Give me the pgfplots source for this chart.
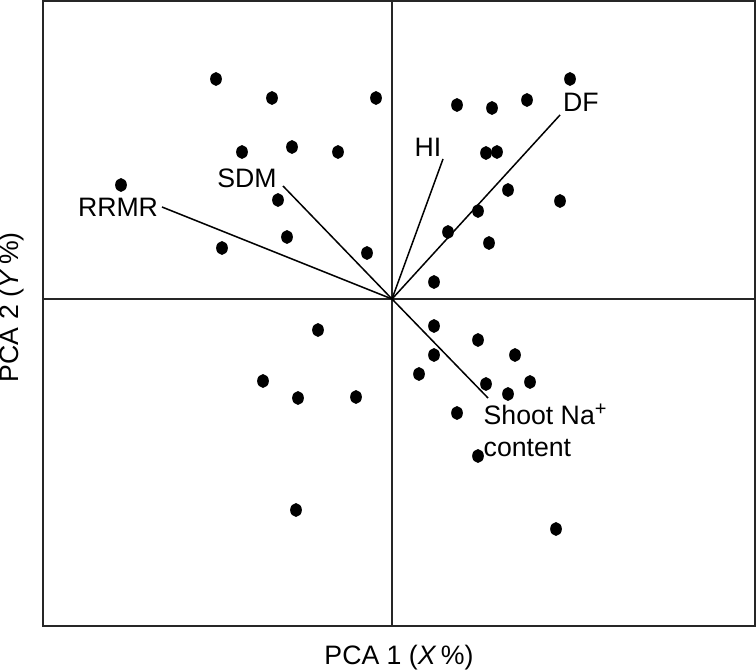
\documentclass[border=0pt]{standalone}
\usepackage{pgfplots}
\pgfplotsset{compat=1.18}
\usepackage{fontspec}
\setmainfont{Liberation Sans}

\begin{document}
\begin{tikzpicture}
\begin{axis}[
    name=pca,
    scale only axis,
    width=213.6pt, height=187.5pt,
    xmin=-349, xmax=363,
    ymin=-327, ymax=298,
    xtick=\empty, ytick=\empty,
    axis line style={line width=0.45pt, black!85},
    font=\fontsize{8}{9.4}\selectfont,
    xlabel={PCA 1 (\textit{X}\,\%)},
    ylabel={PCA 2 (\textit{Y}\,\%)},
    xlabel style={at={(axis description cs:0.5,-0.05)}, anchor=center, inner sep=0pt},
    ylabel style={at={(axis description cs:-0.044,0.51)}, anchor=center, inner sep=0pt},
    clip=false,
]
% quadrant lines
\draw[line width=0.45pt, black!85] (axis cs:0,-327) -- (axis cs:0,298);
\draw[line width=0.45pt, black!85] (axis cs:-349,0) -- (axis cs:363,0);

% scores
\addplot[only marks, mark=*, mark size=1.55pt, mark options={fill=black, draw=black, yscale=1.2}] coordinates {
    (-176,220) (-120,201) (-16,201) (-150,147) (-100,152) (-54,147)
    (-271,114) (-114,99) (-105,62) (-170,51) (-25,46)
    (178,220) (65,194) (100,191) (135,199) (94,146) (105,147)
    (116,109) (168,98) (86,88) (56,67) (97,56) (42,17)
    (-74,-31) (42,-27) (86,-41) (123,-56) (42,-56) (27,-75)
    (-129,-82) (-94,-99) (-36,-98) (94,-85) (138,-83) (116,-95)
    (65,-114) (86,-157) (-96,-211) (164,-230)
};

% loading vectors
\addplot[black, line width=0.45pt] coordinates {(0,0) (-230,92)};
\addplot[black, line width=0.45pt] coordinates {(0,0) (-109,113)};
\addplot[black, line width=0.45pt] coordinates {(0,0) (51,140)};
\addplot[black, line width=0.45pt] coordinates {(0,0) (168,184)};
\addplot[black, line width=0.45pt] coordinates {(0,0) (96,-99)};

\node[anchor=center] at (axis cs:-274,92) {RRMR};
\node[anchor=center] at (axis cs:-145,121) {SDM};
\node[anchor=center] at (axis cs:36,152) {HI};
\node[anchor=center] at (axis cs:189,197) {DF};
\node[anchor=west, align=left, inner sep=0pt] at (axis cs:91,-131) {Shoot Na\textsuperscript{+}\\content};
\end{axis}
\pgfresetboundingbox
\path (pca.south west) ++(-12.9pt,-13.2pt) rectangle ([shift={(0.3pt,0.3pt)}]pca.north east);
\end{tikzpicture}
\end{document}
